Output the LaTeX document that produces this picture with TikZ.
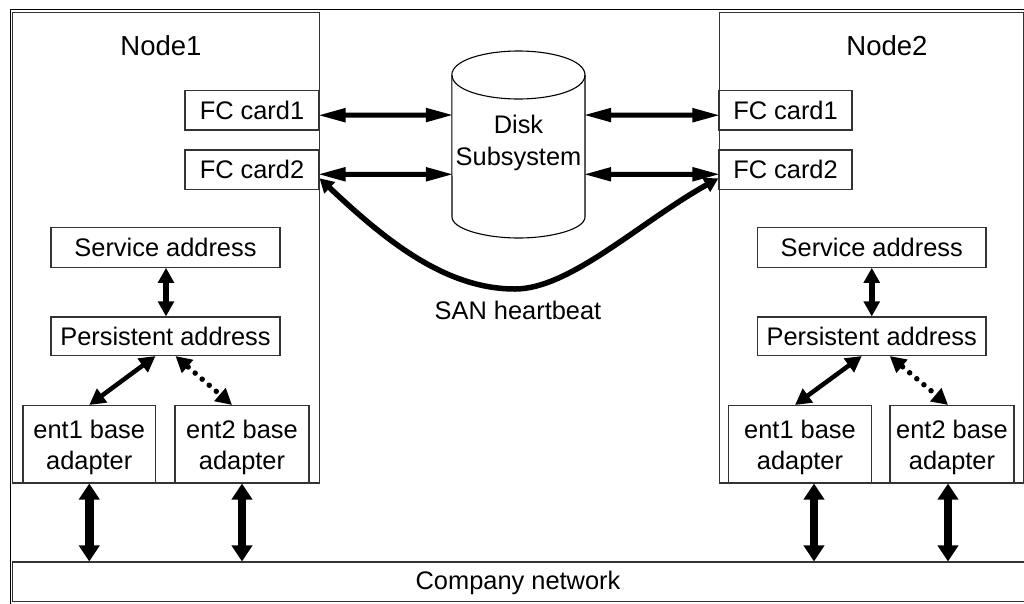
\documentclass[tikz,border=0pt]{standalone}
\usepackage{fontspec}
\setmainfont{Liberation Sans}
\usetikzlibrary{arrows.meta,calc}
\tikzset{
  x=1pt,y=-1pt,
  boxn/.style={draw=black!80,line width=1.1pt,fill=white,inner sep=0pt,align=center,font=\fontsize{25.4}{31.7}\selectfont},
  label/.style={inner sep=0pt,align=center,font=\fontsize{25.4}{31.7}\selectfont},
  title/.style={inner sep=0pt,font=\fontsize{27.5}{32}\selectfont},
  fcarrow/.style={line width=5pt,shorten >=-2pt,shorten <=-2pt,{Triangle[length=28pt,width=13pt]}-{Triangle[length=28pt,width=13pt]}},
  midarrow/.style={line width=5.5pt,{Triangle[length=15pt,width=15.5pt]}-{Triangle[length=15pt,width=15.5pt]}},
  diagarrow/.style={line width=4.5pt,{Triangle[length=16pt,width=16.5pt]}-{Triangle[length=16pt,width=16.5pt]}},
  dotarrow/.style={line width=5.5pt,line cap=round,dash pattern=on 0pt off 9.3pt,dash phase=7.6pt,{Triangle[length=16pt,width=16.5pt]}-{Triangle[length=16pt,width=16.5pt]}},
  bigarrow/.style={line width=8.5pt,{Triangle[length=16pt,width=20pt]}-{Triangle[length=16pt,width=20pt]}},
  hbarrow/.style={line width=5.5pt,{Triangle[length=14pt,width=15pt]}-{Triangle[length=14pt,width=15pt]}},
}
\newcommand{\bx}[6]{\node[boxn,minimum width=#4pt,minimum height=#5pt] (#1) at (#2,#3) {#6};}
\newcommand{\lift}{\rule{0pt}{25pt}}
\begin{document}
\begin{tikzpicture}
\useasboundingbox (0,0) rectangle (1024,603);
\clip (0,0) rectangle (1024,603);
\draw[line width=1.1pt,black] (10.5,9.5) rectangle (1030,610);
% nodes
\bx{nodeL}{166}{247.75}{306.5}{470.5}{}
\bx{nodeR}{871.5}{247.75}{304.5}{470.5}{}
\node[title] (tL) at (161,46) {Node1};
\node[title] (tR) at (887,46) {Node2};
\bx{fcLa}{252}{110.25}{134}{39.5}{FC card1}
\bx{fcLb}{252}{169.75}{134}{39.5}{FC card2}
\bx{fcRa}{785.5}{110.25}{133}{39.5}{FC card1}
\bx{fcRb}{785.5}{169.75}{133}{39.5}{FC card2}
\bx{svL}{165.5}{247.5}{229}{39.5}{Service address}
\bx{peL}{165.5}{336.25}{229}{38.5}{Persistent address}
\bx{enLa}{89.25}{444.25}{132.5}{77.5}{\lift ent1 base\\adapter}
\bx{enLb}{242}{444.25}{134}{77.5}{\lift ent2 base\\adapter}
\bx{svR}{871.75}{247.5}{228.5}{39.5}{Service address}
\bx{peR}{871.75}{336.25}{228.5}{38.5}{Persistent address}
\bx{enRa}{800}{444.25}{143}{77.5}{\lift ent1 base\\adapter}
\bx{enRb}{952}{444.25}{124}{77.5}{\lift ent2 base\\adapter}
\bx{net}{520}{581.75}{1015}{39.5}{}
\node[label] (netT) at (518,583) {Company network};
% disk
\node[inner sep=0pt,minimum width=133pt,minimum height=187pt] (disk) at (518.5,144.5) {};
\draw[line width=1.1pt,fill=white] (disk.north west |- 0,75)
  .. controls (452,60) and (485,51) .. (518.5,51)
  .. controls (552,51) and (585,60) .. (585,75)
  -- (585,217)
  .. controls (585,229) and (552,238) .. (518.5,238)
  .. controls (485,238) and (452,229) .. (452,217)
  -- cycle;
\draw[line width=1.1pt] (452,75) .. controls (452,90) and (485,99) .. (518.5,99)
  .. controls (552,99) and (585,90) .. (585,75);
\node[label] (diskT) at (518.5,139.5) {\lift Disk\\Subsystem};
\node[label] (san) at (518,310.5) {SAN heartbeat};
% connectors
\draw[fcarrow] ([yshift=-5pt]fcLa.east) -- (disk.west |- 0,115);
\draw[fcarrow] ([yshift=-4.5pt]fcLb.east) -- (disk.west |- 0,174.3);
\draw[fcarrow] (disk.east |- 0,115) -- ([yshift=-5pt]fcRa.west);
\draw[fcarrow] (disk.east |- 0,174.3) -- ([yshift=-4.5pt]fcRb.west);
\draw[hbarrow] ([yshift=-8.5pt]fcLb.east) .. controls (385,240) and (445,289) .. (515,289)
  .. controls (570,289) and (640,222) .. ([yshift=-8.5pt]fcRb.west);
\draw[midarrow] ([xshift=.5pt]svL.south) -- ([xshift=.5pt]peL.north);
\draw[midarrow] (svR.south) -- (peR.north);
\draw[diagarrow] ([xshift=-10pt]peL.south) -- (enLa.north);
\draw[dotarrow] ([xshift=10pt]peL.south) -- ([xshift=-10pt]enLb.north);
\draw[diagarrow] ([xshift=-10pt]peR.south) -- ([xshift=-5pt]enRa.north);
\draw[dotarrow] ([xshift=18pt]peR.south) -- ([xshift=-4pt]enRb.north);
\draw[bigarrow] (enLa.south) -- (enLa.south |- net.north);
\draw[bigarrow] (enLb.south) -- (enLb.south |- net.north);
\draw[bigarrow] ([xshift=14pt]enRa.south) -- ([xshift=14pt]enRa.south |- net.north);
\draw[bigarrow] ([xshift=-4pt]enRb.south) -- ([xshift=-4pt]enRb.south |- net.north);
\end{tikzpicture}
\end{document}
